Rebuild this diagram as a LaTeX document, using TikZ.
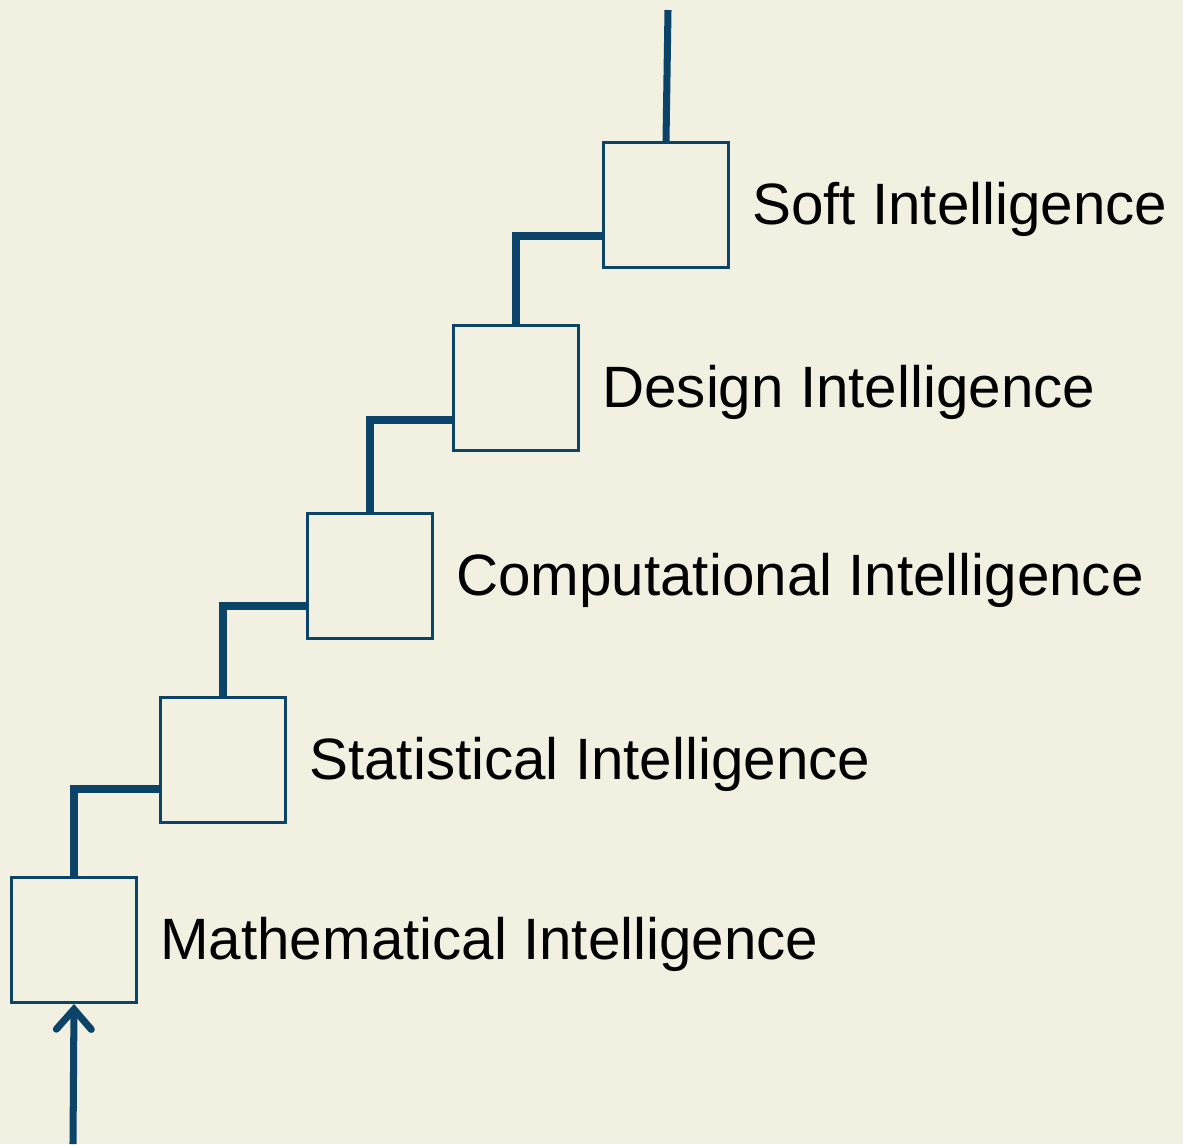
\documentclass[tikz,border=0pt]{standalone}
\usepackage{fontspec}
\setmainfont{Liberation Sans}
\usepackage{xcolor}
\usetikzlibrary{arrows.meta}
\definecolor{stepblue}{HTML}{0B4468}
\definecolor{paper}{HTML}{F2F0E0}

\begin{document}
\begin{tikzpicture}[x=0.02cm, y=-0.02cm,
        stepbox/.style={draw=stepblue, line width=1.7pt, minimum size=2.5cm, inner sep=0pt},
        steptext/.style={anchor=west, inner sep=0pt, xshift=0.44cm, yshift=-0.08cm, font=\fontsize{33.2}{40}\selectfont},
        link/.style={draw=stepblue, line width=4pt}]
        % Background
        \fill [paper] (0, 0) rectangle (1183, 1144);
        \useasboundingbox (0, 0) rectangle (1183, 1144);
        % Boxes
        \node [stepbox] (math) at (74, 940) {};
        \node [stepbox] (stat) at (223, 760) {};
        \node [stepbox] (comp) at (370, 576) {};
        \node [stepbox] (design) at (516, 388) {};
        \node [stepbox] (soft) at (666, 205) {};
        % Labels
        \node [steptext] (mathtext) at (math.east) {Mathematical Intelligence};
        \node [steptext] (stattext) at (stat.east) {Statistical Intelligence};
        \node [steptext] (comptext) at (comp.east) {Computational Intelligence};
        \node [steptext] (designtext) at (design.east) {Design Intelligence};
        \node [steptext] (softtext) at (soft.east) {Soft Intelligence};
        % Ends
        \coordinate (start) at (73, 1144);
        \coordinate (top) at (668, 10);
        % Links
        \draw [link, -{Straight Barb[length=0.4cm, width=0.7cm, line cap=round]}] (start) -- (math.south);
        \draw [link] (math.north) |- ([yshift=-0.58cm]stat.west);
        \draw [link] (stat.north) |- ([yshift=-0.6cm]comp.west);
        \draw [link] (comp.north) |- ([yshift=-0.64cm]design.west);
        \draw [link] (design.north) |- ([yshift=-0.62cm]soft.west);
        \draw [link] (soft.north) -- (top);
    \end{tikzpicture}
\end{document}
